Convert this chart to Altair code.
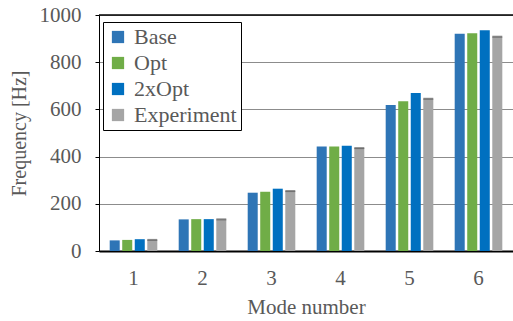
import altair as alt
import pandas as pd

modes = [1, 2, 3, 4, 5, 6]
series = ["Base", "Opt", "2xOpt", "Experiment"]
base = [45, 134, 247, 443, 619, 921]
opt = [47, 135, 251, 443, 635, 923]
opt2x = [50, 135, 264, 446, 670, 935]
experiment = [47, 134, 254, 436, 645, 908]
colors = ["#2E75B6", "#70AD47", "#0070C0", "#A5A5A5"]

rows = []
for name, vals in zip(series, [base, opt, opt2x, experiment]):
    for m, v in zip(modes, vals):
        rows.append({"Mode": m, "Series": name, "Value": v})
df = pd.DataFrame(rows)
exp_df = df[df["Series"] == "Experiment"]

FONT = "Liberation Serif, Times New Roman, serif"

x_enc = alt.X(
    "Mode:O",
    scale=alt.Scale(paddingInner=0.31, paddingOuter=0.155),
    axis=alt.Axis(
        title="Mode number", labelAngle=0, ticks=False, labelPadding=16,
        domainColor="black", domainWidth=2, titlePadding=8,
    ),
)
xoff = alt.XOffset("Series:N", sort=series, scale=alt.Scale(paddingInner=0.2))

bars = alt.Chart(df).mark_bar().encode(
    x=x_enc,
    xOffset=xoff,
    y=alt.Y(
        "Value:Q",
        scale=alt.Scale(domain=[0, 1000]),
        axis=alt.Axis(
            title="Frequency [Hz]", values=[0, 200, 400, 600, 800, 1000],
            format="d",
            tickSize=4, tickColor="black", labelPadding=14, domainColor="black",
            gridColor="#8c8c8c", titlePadding=10, titleFontSize=20,
        ),
    ),
    color=alt.Color(
        "Series:N", sort=series,
        scale=alt.Scale(domain=series, range=colors),
        legend=alt.Legend(
            title=None, orient="none", legendX=4, legendY=7,
            symbolType="square", symbolSize=150, symbolStrokeWidth=0,
            labelFontSize=22, labelFont=FONT, labelColor="#595959",
            rowPadding=4, padding=4, strokeColor="black", fillColor="white",
            labelOffset=5,
        ),
    ),
)

caps = alt.Chart(exp_df).mark_tick(color="#595959", thickness=2, size=10).encode(
    x=x_enc,
    xOffset=xoff,
    y="Value:Q",
)

top = alt.Chart(pd.DataFrame({"y": [1000]})).mark_rule(color="black", strokeWidth=1.5).encode(
    y=alt.Y("y:Q")
)

chart = alt.layer(bars, caps, top).properties(
    width=414, height=236,
    autosize=alt.AutoSizeParams(type="none"),
    padding={"left": 99, "top": 15, "right": 0, "bottom": 70},
).configure_view(stroke=None).configure_axis(
    labelFont=FONT, titleFont=FONT, labelFontSize=21, titleFontSize=21,
    labelColor="#595959", titleColor="#595959", titleFontWeight="normal",
)

chart.save("out.html", embed_options={"renderer": "svg", "actions": False})
